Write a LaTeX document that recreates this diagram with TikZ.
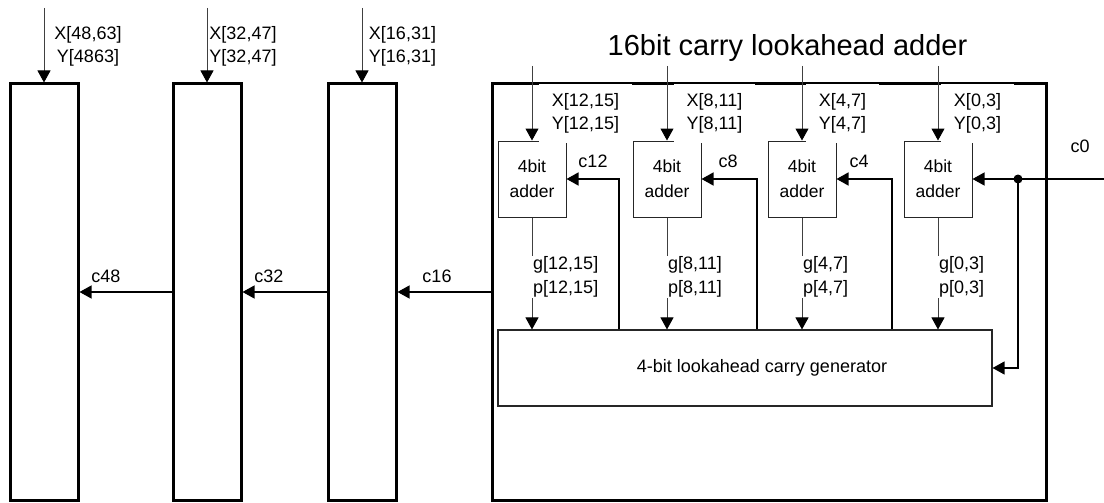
\documentclass[tikz,border=0pt]{standalone}
\usepackage{fontspec}
\setmainfont{Liberation Sans}
\usetikzlibrary{arrows.meta}
\begin{document}
\begin{tikzpicture}[x=1pt,y=-1pt,
  txt/.style={font=\fontsize{18}{23.5}\selectfont, inner sep=0pt},
  bigbox/.style={draw, line width=3pt, minimum width=68pt, minimum height=416pt, inner sep=0pt},
  adder/.style={draw=black!85, line width=1pt, minimum width=68pt, minimum height=76pt, inner sep=0pt, align=center, font=\fontsize{17.5}{25}\selectfont},
  inline/.style={draw=black!75, line width=1pt, -{Triangle[width=13pt,length=12pt,color=black]}},
  carry/.style={draw=black, line width=1.4pt, -{Triangle[width=13pt,length=12pt]}},
  lab/.style={txt, fill=white, align=center, inner xsep=13pt, minimum height=58pt},
  gplab/.style={txt, fill=white, align=left, inner xsep=3pt, inner ysep=1pt, anchor=west}
]
\useasboundingbox (0,0) rectangle (1104,503);

% big boxes
\node[bigbox] (b1) at (44,292) {};
\node[bigbox] (b2) at (207,292) {};
\node[bigbox] (b3) at (362,292) {};
\node[bigbox, minimum width=554pt] (big) at (769,292) {};

% title
\node[txt, font=\fontsize{29}{30}\selectfont, anchor=base] (title) at (787.5,56) {16bit carry lookahead adder};

% left inputs
\coordinate (i1) at (44,8);
\coordinate (i2) at (207,8);
\coordinate (i3) at (362,8);
\draw[inline] (i1) -- (b1.north);
\draw[inline] (i2) -- (b2.north);
\draw[inline] (i3) -- (b3.north);
\node[txt, align=center, anchor=base] (l1) at (88,63) {X[48,63]\\Y[4863]};
\node[txt, align=center, anchor=base] (l2) at (243,63) {X[32,47]\\Y[32,47]};
\node[txt, align=center, anchor=base] (l3) at (402.5,63) {X[16,31]\\Y[16,31]};

% carries between big boxes
\draw[carry, line width=1.2pt] (b2.west) -- (b1.east);
\draw[carry, line width=1.2pt] (b3.west) -- (b2.east);
\draw[carry, line width=1.2pt] (big.west) -- (b3.east);
\node[txt, anchor=base] (c48) at (106,282) {c48};
\node[txt, anchor=base] (c32) at (269,282) {c32};
\node[txt, anchor=base] (c16) at (437,282) {c16};

% adders and generator
\node[adder] (a1) at (532,179) {4bit\\adder};
\node[adder] (a2) at (667,179) {4bit\\adder};
\node[adder] (a3) at (802,179) {4bit\\adder};
\node[adder] (a4) at (938,179) {4bit\\adder};
\node[draw=black!85, line width=1.1pt, minimum width=494pt, minimum height=76pt, inner sep=0pt] (gen) at (745,368) {};
\node[txt] (gentxt) at (762,368) {4-bit lookahead carry generator};

% inner input labels (white boxes over the top edge)
\node[lab] (x1) at (585.5,113.5) {X[12,15]\\Y[12,15]};
\node[lab] (x2) at (714.5,113.5) {X[8,11]\\Y[8,11]};
\node[lab] (x3) at (842.5,113.5) {X[4,7]\\Y[4,7]};
\node[lab] (x4) at (977.5,113.5) {X[0,3]\\Y[0,3]};

% inner inputs
\coordinate (j1) at (532,66);
\coordinate (j2) at (667,66);
\coordinate (j3) at (802,66);
\coordinate (j4) at (938,66);
\draw[inline] (j1) -- (a1.north);
\draw[inline] (j2) -- (a2.north);
\draw[inline] (j3) -- (a3.north);
\draw[inline] (j4) -- (a4.north);

% g/p lines
\draw[inline] (a1.south) -- (a1.south |- gen.north);
\draw[inline] (a2.south) -- (a2.south |- gen.north);
\draw[inline] (a3.south) -- (a3.south |- gen.north);
\draw[inline] (a4.south) -- (a4.south |- gen.north);
\node[gplab] (g1) at (530,277) {g[12,15]\\p[12,15]};
\node[gplab] (g2) at (665,277) {g[8,11]\\p[8,11]};
\node[gplab] (g3) at (800,277) {g[4,7]\\p[4,7]};
\node[gplab] (g4) at (936,277) {g[0,3]\\p[0,3]};

% carries from generator
\coordinate (k12) at (619,179);
\coordinate (k8) at (757,179);
\coordinate (k4) at (892,179);
\draw[carry] (k12 |- gen.north) -- (k12) -- (a1.east);
\draw[carry] (k8 |- gen.north) -- (k8) -- (a2.east);
\draw[carry] (k4 |- gen.north) -- (k4) -- (a3.east);
\node[txt, anchor=base] (c12) at (593,167) {c12};
\node[txt, anchor=base] (c8) at (728,167) {c8};
\node[txt, anchor=base] (c4) at (859,167) {c4};

% c0
\coordinate (c0in) at (1104,179);
\coordinate (dot) at (1018,179);
\draw[carry, line width=1.2pt] (c0in) -- (a4.east);
\fill (dot) circle (4.5pt);
\draw[carry, line width=1.2pt] (dot) |- (gen.east);
\node[txt, anchor=base] (c0) at (1080,153) {c0};
\end{tikzpicture}
\end{document}
